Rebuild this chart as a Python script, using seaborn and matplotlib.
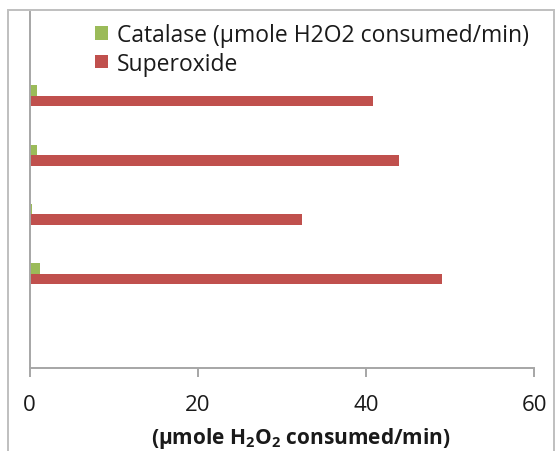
import numpy as np
import pandas as pd
import matplotlib
matplotlib.use("Agg")
import matplotlib.pyplot as plt
from matplotlib.patches import Patch, Rectangle
import seaborn as sns

# Data: rows listed top to bottom; the first and last rows are empty slots
categories = ["r0", "r1", "r2", "r3", "r4", "r5"]
catalase = [np.nan, 0.9, 0.9, 0.25, 1.2, np.nan]
superoxide = [np.nan, 40.8, 43.9, 32.4, 49.1, np.nan]
series_names = ["Catalase (µmole H2O2 consumed/min)", "Superoxide", "Spare"]
series_colors = ["#9BBB59", "#C0504D", "#4F81BD"]
x_ticks = [0, 20, 40, 60]

df = pd.DataFrame({
    "category": categories * 2,
    "series": [series_names[0]] * len(categories) + [series_names[1]] * len(categories),
    "value": catalase + superoxide,
}).dropna()

sns.set_theme(style="white")
plt.rcParams["font.family"] = ["Open Sans", "DejaVu Sans"]
plt.rcParams["mathtext.fontset"] = "custom"
plt.rcParams["mathtext.rm"] = "Open Sans"
plt.rcParams["mathtext.bf"] = "Open Sans:bold"

fig = plt.figure(figsize=(5.55, 4.52), dpi=100)
ax = fig.add_axes([0.0532, 0.1836, 0.9090, 0.7876])

sns.barplot(
    data=df, y="category", x="value", hue="series",
    order=categories, hue_order=series_names,
    palette=dict(zip(series_names, series_colors)), saturation=1,
    orient="h", width=0.53, linewidth=0, errorbar=None,
    legend=False, ax=ax,
)

axis_gray = "#A6A6A6"
ax.set_xlim(0, 60)
ax.set_xticks(x_ticks)
ax.set_xticklabels([str(t) for t in x_ticks])
ax.set_yticks([])
ax.set_ylabel("")
ax.set_xlabel("")
for side in ("top", "right"):
    ax.spines[side].set_visible(False)
for side in ("left", "bottom"):
    ax.spines[side].set_color(axis_gray)
    ax.spines[side].set_linewidth(1.4)
ax.tick_params(axis="x", direction="out", length=6.5, width=1.4, color=axis_gray,
               pad=12, labelsize=16, labelcolor="#1a1a1a", bottom=True)

fig.text(301 / 555, 1 - 439 / 452, r"(µmole H$\mathbf{_2}$O$\mathbf{_2}$ consumed/min)",
         ha="center", va="center", fontsize=15, fontweight="bold", color="#1a1a1a")

handles = [Patch(facecolor=series_colors[0], edgecolor="none"),
           Patch(facecolor=series_colors[1], edgecolor="none")]
ax.legend(handles, series_names[:2], loc="upper left",
          bbox_to_anchor=(95 / 555, 1 - 24 / 452), bbox_transform=fig.transFigure,
          frameon=False, fontsize=16.5, handlelength=0.56, handleheight=0.56,
          handletextpad=0.4, borderpad=0, borderaxespad=0, labelspacing=0.2,
          labelcolor="#1a1a1a")

# chart-area border
fig.patches.append(Rectangle((7.5 / 555, -0.2), (554 - 7.5) / 555, 1.2 - 10.5 / 452,
                             transform=fig.transFigure, fill=False,
                             edgecolor="#BFBFBF", linewidth=1.4))

fig.savefig("out.png", dpi=100)
